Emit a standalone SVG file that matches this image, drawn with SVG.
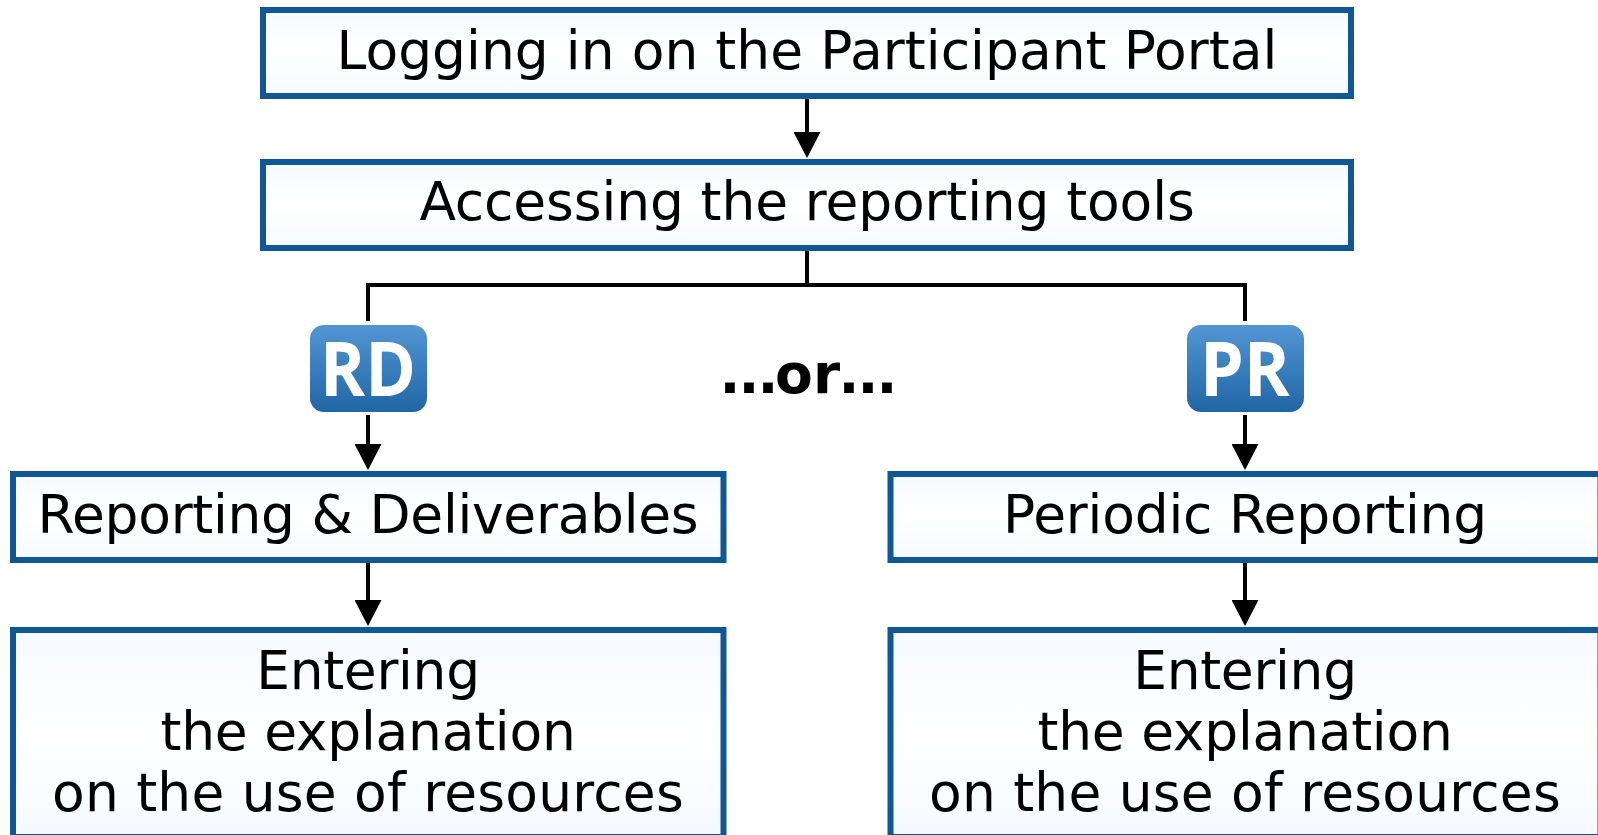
<svg xmlns="http://www.w3.org/2000/svg" width="1598" height="835" viewBox="0 0 1598 835">
<style>
.box{stroke:#0f5795;stroke-width:6;fill:url(#boxfill)}
.t{font-family:"DejaVu Sans",Verdana,sans-serif;font-size:53.4px;text-anchor:middle;fill:#000}
.b{font-family:"DejaVu Sans",Verdana,sans-serif;font-size:55px;font-weight:700;fill:#000}
.badge{fill:url(#badgefill)}
.bt{font-family:"Open Sans",sans-serif;font-size:75px;font-weight:700;text-anchor:middle;fill:#fff}
.c{fill:none;stroke:#000;stroke-width:4}
.l1{letter-spacing:-.29px}.l2{letter-spacing:-.22px}.l3{letter-spacing:.23px}
</style>
<defs>
<linearGradient id="boxfill" x1="0" y1="0" x2="0" y2="1"><stop offset="0" stop-color="#f5f9ff"/><stop offset="0.5" stop-color="#fff"/><stop offset="1" stop-color="#f5f9ff"/></linearGradient>
<linearGradient id="badgefill" x1="0" y1="0" x2="0" y2="1"><stop offset="0" stop-color="#5296d4"/><stop offset="1" stop-color="#2066a5"/></linearGradient>
<marker id="arrow" markerUnits="userSpaceOnUse" markerWidth="27" markerHeight="27" refX="0" refY="13.5" orient="auto"><path d="M0 0L26 13.5L0 27Z" fill="#000"/></marker>
</defs>
<g id="connectors">
<path class="c" d="M807 99V132" marker-end="url(#arrow)"/>
<path class="c" d="M807 250V285M368 321V285H1245V321"/>
<path class="c" d="M368 415V444" marker-end="url(#arrow)"/>
<path class="c" d="M1245 415V444" marker-end="url(#arrow)"/>
<path class="c" d="M368 563V600" marker-end="url(#arrow)"/>
<path class="c" d="M1245 563V600" marker-end="url(#arrow)"/>
</g>
<g id="n-login"><rect class="box" x="263" y="10" width="1088" height="86"/><text class="t" x="807" y="69" style="letter-spacing:.06px">Logging in on the Participant Portal</text></g>
<g id="n-access"><rect class="box" x="263" y="162" width="1088" height="86"/><text class="t" x="807" y="220" style="letter-spacing:-.11px">Accessing the reporting tools</text></g>
<g id="n-rd"><rect class="badge" x="310" y="325" width="117" height="87" rx="14"/><text class="bt" x="368" y="396" textLength="96" lengthAdjust="spacingAndGlyphs">RD</text></g>
<g id="n-or"><text class="b" x="719.5 738.5 757.5 775 813 838.5 857.5 876.5" y="393">...or...</text></g>
<g id="n-pr"><rect class="badge" x="1187" y="325" width="117" height="87" rx="14"/><text class="bt" x="1245" y="396" textLength="90" lengthAdjust="spacingAndGlyphs">PR</text></g>
<g id="n-rdbox"><rect class="box" x="13" y="474" width="710.5" height="86"/><text class="t" x="368" y="533" style="letter-spacing:-.27px">Reporting &amp; Deliverables</text></g>
<g id="n-prbox"><rect class="box" x="890.5" y="474" width="710" height="86"/><text class="t" x="1245" y="533" style="letter-spacing:-.18px">Periodic Reporting</text></g>
<g id="n-rdexp"><rect class="box" x="13" y="630" width="710.5" height="207"/><text class="t l1" x="368" y="689">Entering</text><text class="t l2" x="368" y="750">the explanation</text><text class="t l3" x="368" y="811">on the use of resources</text></g>
<g id="n-prexp"><rect class="box" x="890.5" y="630" width="710" height="207"/><text class="t l1" x="1245" y="689">Entering</text><text class="t l2" x="1245" y="750">the explanation</text><text class="t l3" x="1245" y="811">on the use of resources</text></g>
</svg>
